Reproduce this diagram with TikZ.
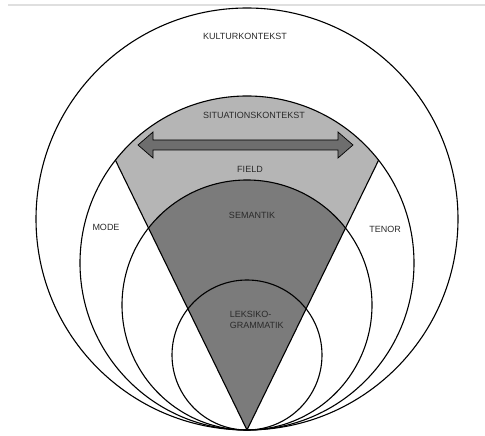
\documentclass[tikz,border=0pt]{standalone}
\usepackage{fontspec}
\setmainfont{Liberation Sans}
\usepackage{xcolor}
\usepackage{tikz}
\definecolor{lightfill}{HTML}{B5B5B5}
\definecolor{darkfill}{HTML}{7B7B7B}
\definecolor{arrowfill}{HTML}{6E6E6E}
\definecolor{labelgray}{HTML}{2A2A2A}
\begin{document}
\begin{tikzpicture}[x=1pt,y=1pt,line width=1.1pt,
    every node/.style={font=\fontsize{9}{11}\selectfont,text=labelgray}]
      \useasboundingbox (0,0) rectangle (485,436);
      \coordinate (apex) at (247,6);
      \draw[color=gray!25,line width=1.5pt](8,431)--(485,431);
      % wedge fills
      \begin{scope}
        \clip (247,173) circle (167);
        \fill[lightfill] (apex)--+(116:400)--+(64:400)--cycle;
        \clip (247,131) circle (125);
        \fill[darkfill] (apex)--+(116:400)--+(64:400)--cycle;
      \end{scope}
      \draw (apex)--+(116:300);
      \draw (apex)--+(64:300);
      \draw (247,217) circle (211);
      \draw (247,173) circle (167);
      \draw (247,131) circle (125);
      \draw (247,81) circle (75);
      \draw[fill=arrowfill,line width=0.7pt](138,291)--(153,304)--(153,296)--(338,296)--(338,304)
        --(353,291)--(338,278)--(338,286)--(153,286)--(153,278)--cycle;
      \draw(245,400)node(kultur){KULTURKONTEKST};
      \draw(254,321)node(situation){SITUATIONSKONTEKST};
      \draw(250,267)node(field){FIELD};
      \draw(252,221)node(semantik){SEMANTIK};
      \draw(106,209)node(mode){MODE};
      \draw(385,207)node(tenor){TENOR};
      \draw(226,116)node[anchor=west,align=left](leksiko){LEKSIKO-\\GRAMMATIK};
    \end{tikzpicture}
\end{document}
